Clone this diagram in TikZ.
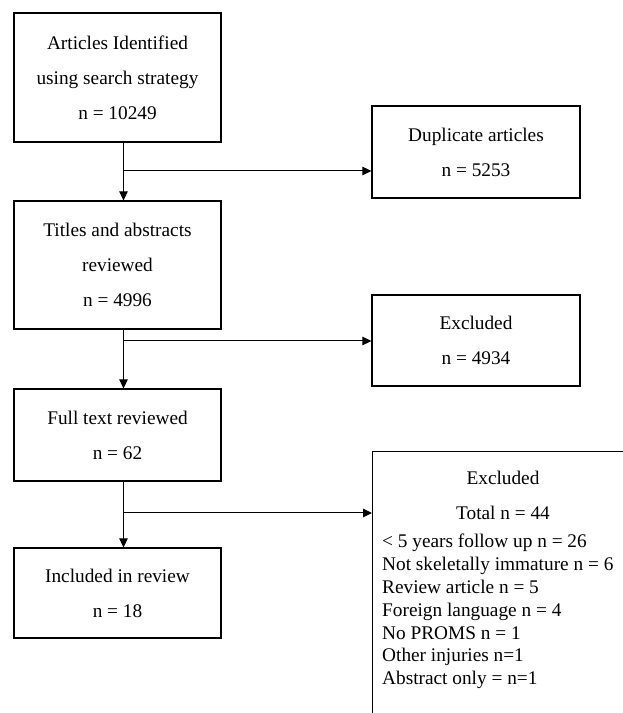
\documentclass[tikz,border=0pt]{standalone}
\usepackage{fontspec}
\setmainfont{Liberation Serif}
\usetikzlibrary{arrows.meta}
\begin{document}
\begin{tikzpicture}[x=1pt,y=1pt,
  box/.style={draw, line width=1.2pt, align=center, inner sep=0pt,
    font=\fontsize{19.3}{35}\selectfont},
  conn/.style={line width=1pt, -{Triangle[length=9pt,width=8.5pt]}},
  plain/.style={line width=1pt},
  txt/.style={inner sep=0pt, font=\fontsize{19.3}{23}\selectfont}]
\useasboundingbox (0,0) rectangle (623,713);
\clip (0,0) rectangle (623,713);
% left column
\node[box, minimum width=207, minimum height=129] (b1) at (117.5,635.5)
  {Articles Identified\\using search strategy\\n = 10249};
\node[box, minimum width=207, minimum height=128] (b2) at (117.5,448)
  {Titles and abstracts\\reviewed\\n = 4996};
\node[box, minimum width=207, minimum height=92] (b3) at (117.5,278)
  {Full text reviewed\\n = 62};
\node[box, minimum width=207, minimum height=90] (b4) at (117.5,120)
  {Included in review\\n = 18};
% right column
\node[box, minimum width=208, minimum height=92] (d1) at (476,561)
  {Duplicate articles\\n = 5253};
\node[box, minimum width=208, minimum height=91] (d2) at (476,372.5)
  {Excluded\\n = 4934};
\node[box, anchor=north west, minimum width=262, minimum height=300] (d3) at (372,262) {};
\node[txt] (d3a) at (503,235) {Excluded};
\node[txt] (d3b) at (503,200) {Total n = 44};
\node[txt, anchor=base west] (l1) at (382,165) {< 5 years follow up n = 26};
\node[txt, anchor=base west] (l2) at (382,142.2) {Not skeletally immature n = 6};
\node[txt, anchor=base west] (l3) at (382,119.4) {Review article n = 5};
\node[txt, anchor=base west] (l4) at (382,96.6) {Foreign language n = 4};
\node[txt, anchor=base west] (l5) at (382,73.8) {No PROMS n = 1};
\node[txt, anchor=base west] (l6) at (382,51) {Other injuries n=1};
\node[txt, anchor=base west] (l7) at (382,28.2) {Abstract only = n=1};
% junctions
\coordinate (j1) at (123.5,542);
\coordinate (j2) at (123.5,372);
\coordinate (j3) at (123.5,200);
% connectors
\draw[conn] (b1.south -| j1) -- (b2.north -| j1);
\draw[conn] (j1) -- (j1 -| d1.west);
\draw[conn] (b2.south -| j2) -- (b3.north -| j2);
\draw[conn] (j2) -- (j2 -| d2.west);
\draw[conn] (b3.south -| j3) -- (b4.north -| j3);
\draw[conn] (j3) -- (j3 -| d3.west);
\end{tikzpicture}
\end{document}
